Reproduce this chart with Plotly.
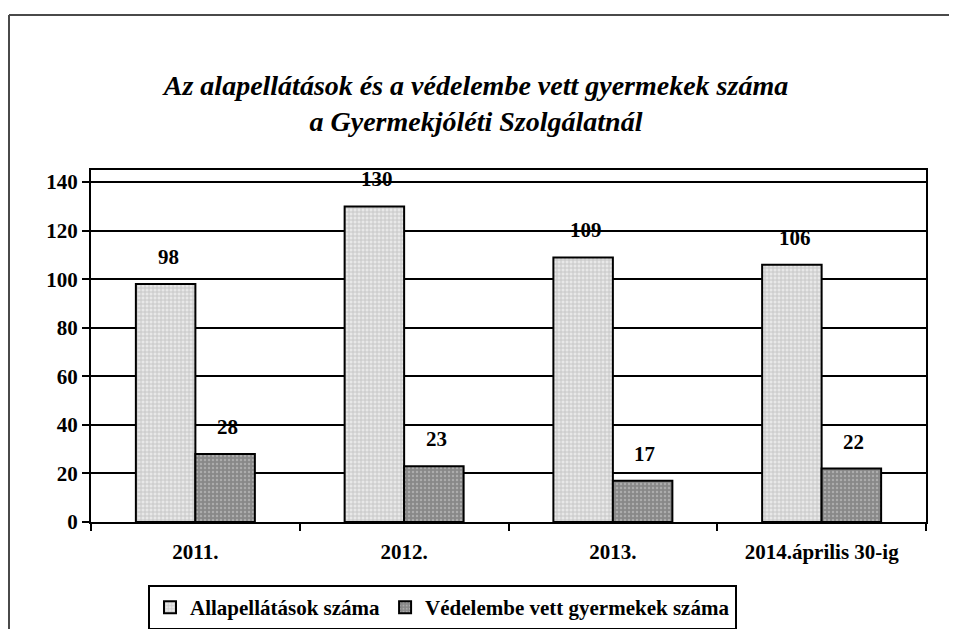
import plotly.graph_objects as go

categories = ["2011.", "2012.", "2013.", "2014.április 30-ig"]
alap_values = [98, 130, 109, 106]
vedelem_values = [28, 23, 17, 22]
series_names = ["Allapellátások száma", "Védelembe vett gyermekek száma"]
y_ticks = [0, 20, 40, 60, 80, 100, 120, 140]
title_text = "Az alapellátások és a védelembe vett gyermekek száma<br>a Gyermekjóléti Szolgálatnál"

FONT = "Liberation Serif"
W, H = 941, 621  # page body has an 8px margin on every side
OFF = 8

fig = go.Figure()
fig.add_trace(go.Bar(
    x=categories, y=alap_values, name=series_names[0],
    marker=dict(color="#d8d8d8", line=dict(color="black", width=2),
                pattern=dict(shape="+", fgcolor="#a0a0a0", bgcolor="#e8e8e8", size=4, solidity=0.4)),
))
fig.add_trace(go.Bar(
    x=categories, y=vedelem_values, name=series_names[1],
    marker=dict(color="#909090", line=dict(color="black", width=2),
                pattern=dict(shape=".", fgcolor="#d0d0d0", bgcolor="#888888", size=4, solidity=0.3)),
))

for i, c in enumerate(categories):
    fig.add_annotation(x=i, y=alap_values[i], text="<b>%d</b>" % alap_values[i], showarrow=False,
                       xref="x", yref="y", yanchor="bottom", yshift=13, xshift=-27,
                       font=dict(family=FONT, size=21, color="black"))
    fig.add_annotation(x=i, y=vedelem_values[i], text="<b>%d</b>" % vedelem_values[i], showarrow=False,
                       xref="x", yref="y", yanchor="bottom", yshift=13, xshift=32,
                       font=dict(family=FONT, size=21, color="black"))

# outer chart border (screen top y=15, left x=8): only top and left edges are visible
bx0 = (1 - 83) / 835
by1 = (514 - 7) / 352
fig.add_shape(type="line", xref="paper", yref="paper", x0=bx0, x1=(W - 83) / 835, y0=by1, y1=by1,
              line=dict(color="#4a4a4a", width=2), layer="below")
fig.add_shape(type="line", xref="paper", yref="paper", x0=bx0, x1=bx0, y0=by1, y1=-(H - 514) / 352,
              line=dict(color="#4a4a4a", width=2), layer="below")

fig.update_layout(
    width=W, height=H,
    margin=dict(l=83, r=W - 918, t=162, b=H - 514, autoexpand=False),
    paper_bgcolor="white", plot_bgcolor="white",
    barmode="group", bargap=0.43, bargroupgap=0,
    title=dict(text="<b><i>" + title_text + "</i></b>", x=(476 - OFF) / W, xref="container",
               xanchor="center", y=1 - 87 / H, yref="container", yanchor="middle",
               font=dict(family=FONT, size=28, color="black")),
    font=dict(family=FONT, size=21, color="black"),
    legend=dict(orientation="h", x=(148 - 91) / 835, xanchor="left", y=(522 - 585) / 352, yanchor="top",
                bordercolor="black", borderwidth=2, bgcolor="white",
                font=dict(family=FONT, size=21, color="black", weight="bold"), traceorder="normal",
                itemwidth=30),
    xaxis=dict(type="category", range=[-0.5, 3.5], showline=True, linecolor="black", linewidth=2,
               mirror=True, ticks="outside", tickson="boundaries", ticklen=7, tickwidth=2,
               tickcolor="black", tickangle=0, ticklabelstandoff=10,
               tickfont=dict(family=FONT, size=21, color="black", weight="bold")),
    yaxis=dict(range=[0, 145], tickvals=y_ticks, showline=True, linecolor="black", linewidth=2,
               mirror=True, ticks="outside", ticklen=7, tickwidth=2, tickcolor="black",
               showgrid=True, gridcolor="black", gridwidth=2, zeroline=False,
               tickfont=dict(family=FONT, size=21, color="black", weight="bold")),
)

fig.write_html("out.html")
